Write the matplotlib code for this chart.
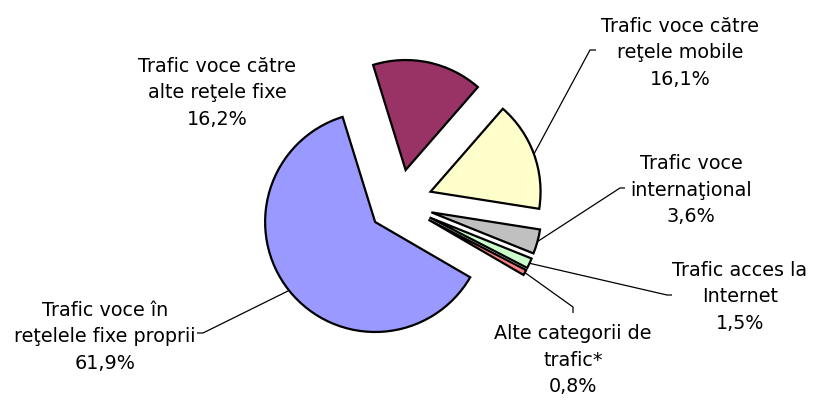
import numpy as np
import matplotlib
matplotlib.use("Agg")
import matplotlib.pyplot as plt

# ---------------------------------------------------------------------------
#  Data (clockwise from the top-left maroon slice)
# ---------------------------------------------------------------------------
labels = [
    "Trafic voce către\nalte reţele fixe",
    "Trafic voce către\nreţele mobile",
    "Trafic voce\ninternaţional",
    "Trafic acces la\nInternet",
    "Alte categorii de\ntrafic*",
    "Trafic voce în\nreţelele fixe proprii",
]
shares = [16.2, 16.1, 3.6, 1.5, 0.8, 61.9]
share_text = ["16,2%", "16,1%", "3,6%", "1,5%", "0,8%", "61,9%"]
colors = ["#993366", "#FFFFCC", "#C0C0C0", "#CCFFCC", "#FF8080", "#9999FF"]

# ---------------------------------------------------------------------------
#  Layout (pixel coordinates, y measured upward from the bottom)
# ---------------------------------------------------------------------------
W, H = 813, 400
center = (398.6, H - 203.3)
radius = 110
explode = [34, 34, 34, 34, 34, 30]
# label centre, leader elbow, leader end (None = no leader)
label_pos = [(217, H - 93), (680, H - 53), (691, H - 190),
             (740, H - 297), (573, H - 360), (105, H - 337)]
elbows = [None, (590, H - 50), (620, H - 188), (667, H - 295),
          (573, H - 307), (203, H - 333)]
ends = [None, (596, H - 50), (625, H - 188), (672, H - 295),
        (573, H - 313), (197, H - 333)]

plt.rcParams["font.family"] = ["DejaVu Sans"]

fig = plt.figure(figsize=(W / 100, H / 100), dpi=100)
ax = fig.add_axes([0, 0, 1, 1])

wedges, _ = ax.pie(
    shares, colors=colors, startangle=107.2, counterclock=False,
    explode=explode, radius=radius, center=center, frame=True,
    wedgeprops=dict(edgecolor="black", linewidth=1.6),
)
ax.set_xlim(0, W)
ax.set_ylim(0, H)
ax.set_aspect("equal")
ax.axis("off")

for w, lab, pct, pos, elb, end in zip(wedges, labels, share_text,
                                     label_pos, elbows, ends):
    ax.text(pos[0], pos[1], f"{lab}\n{pct}", ha="center", va="center",
            fontsize=13.8, linespacing=1.5, color="black")
    if elb is None:
        continue
    # leader starts on the arc, at the slice's mid angle
    mid = np.deg2rad((w.theta1 + w.theta2) / 2)
    cx, cy = w.center
    p0 = (cx + w.r * np.cos(mid), cy + w.r * np.sin(mid))
    ax.plot([p0[0], elb[0], end[0]], [p0[1], elb[1], end[1]],
            color="black", lw=0.9, solid_capstyle="butt")

fig.savefig("out.png", dpi=100)
